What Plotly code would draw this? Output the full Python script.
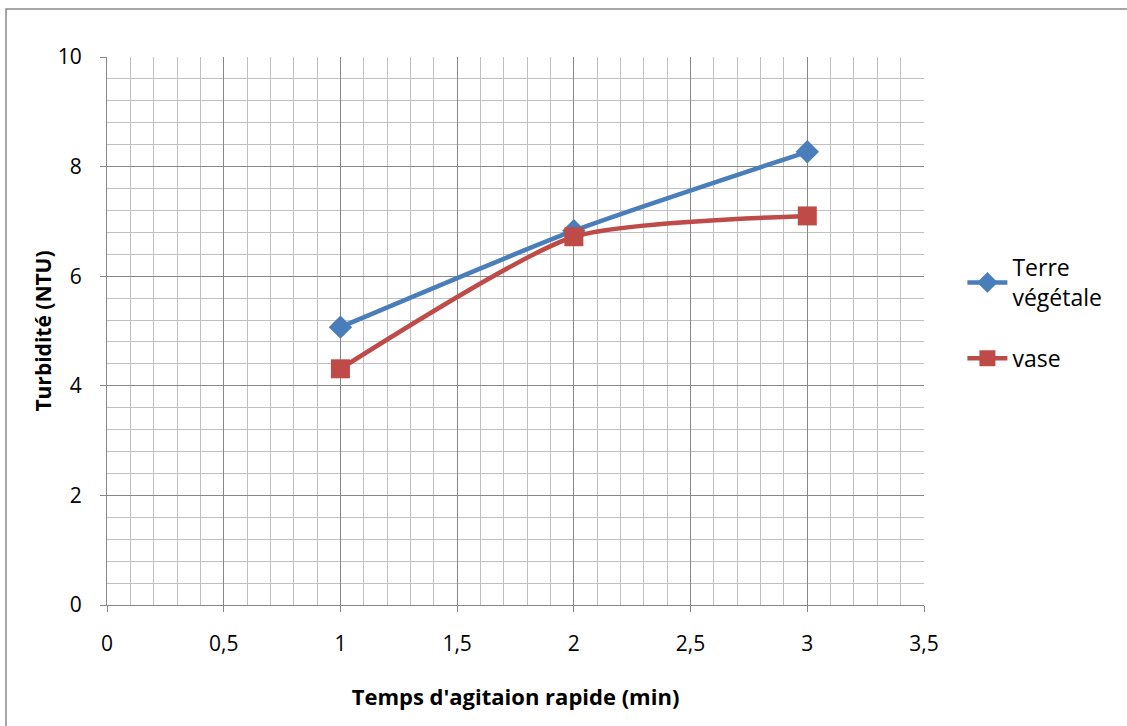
import plotly.graph_objects as go

temps = [1, 2, 3]
terre_vegetale = [5.07, 6.83, 8.27]
vase = [4.31, 6.72, 7.10]

x_tick_vals = [0, 0.5, 1, 1.5, 2, 2.5, 3, 3.5]
x_tick_text = ["0", "0,5", "1", "1,5", "2", "2,5", "3", "3,5"]
y_tick_vals = [0, 2, 4, 6, 8, 10]

FONT = "Open Sans"
major = "#878787"
minor = "#C0C0C0"

fig = go.Figure()
fig.add_trace(go.Scatter(
    x=temps, y=terre_vegetale, name="Terre<br>végétale",
    mode="lines+markers", legendgroup="a",
    line=dict(color="#4A7EBB", width=4.5, shape="spline", smoothing=0.6),
    marker=dict(symbol="diamond", size=18, color="#4A7EBB"),
))
fig.add_trace(go.Scatter(
    x=temps, y=vase, name="vase",
    mode="lines+markers", legendgroup="b",
    line=dict(color="#BE4B48", width=4.5, shape="spline", smoothing=0.6),
    marker=dict(symbol="square", size=19, color="#BE4B48"),
))

fig.update_layout(
    width=1127, height=726,
    margin=dict(l=107, r=203, t=57, b=121),
    paper_bgcolor="white", plot_bgcolor="white",
    font=dict(family=FONT, size=21, color="black"),
    showlegend=True,
    legend=dict(x=1.047, y=0.655, xanchor="left", yanchor="top",
                font=dict(family=FONT, size=23), tracegroupgap=28,
                itemwidth=40,
                bgcolor="rgba(0,0,0,0)"),
    xaxis=dict(
        range=[0, 3.5], tickvals=x_tick_vals, ticktext=x_tick_text,
        showgrid=True, gridcolor=major, gridwidth=1,
        showline=True, linecolor=major, linewidth=1,
        ticks="outside", ticklen=6, tickcolor=major,
        ticklabelstandoff=14,
        zeroline=False,
        minor=dict(dtick=0.1, showgrid=True, gridcolor=minor, gridwidth=1),
        title=dict(text="<b>Temps d'agitaion rapide (min)</b>", font=dict(size=22), standoff=33),
        tickfont=dict(size=21),
    ),
    yaxis=dict(
        range=[0, 10], tickvals=y_tick_vals,
        showgrid=True, gridcolor=major, gridwidth=1,
        showline=True, linecolor=major, linewidth=1,
        ticks="outside", ticklen=6, tickcolor=major,
        ticklabelstandoff=14,
        zeroline=False,
        minor=dict(dtick=0.4, showgrid=True, gridcolor=minor, gridwidth=1),
        title=dict(text="<b>Turbidité (NTU)</b>", font=dict(size=21), standoff=0),
        tickfont=dict(size=21),
    ),
)

fig.add_shape(type="rect", xref="paper", yref="paper",
              x0=(6 - 107) / 817, y0=-2, x1=2, y1=(605 - 9) / 548,
              line=dict(color="#898989", width=1.5), layer="below")

fig.write_html("out.html")
